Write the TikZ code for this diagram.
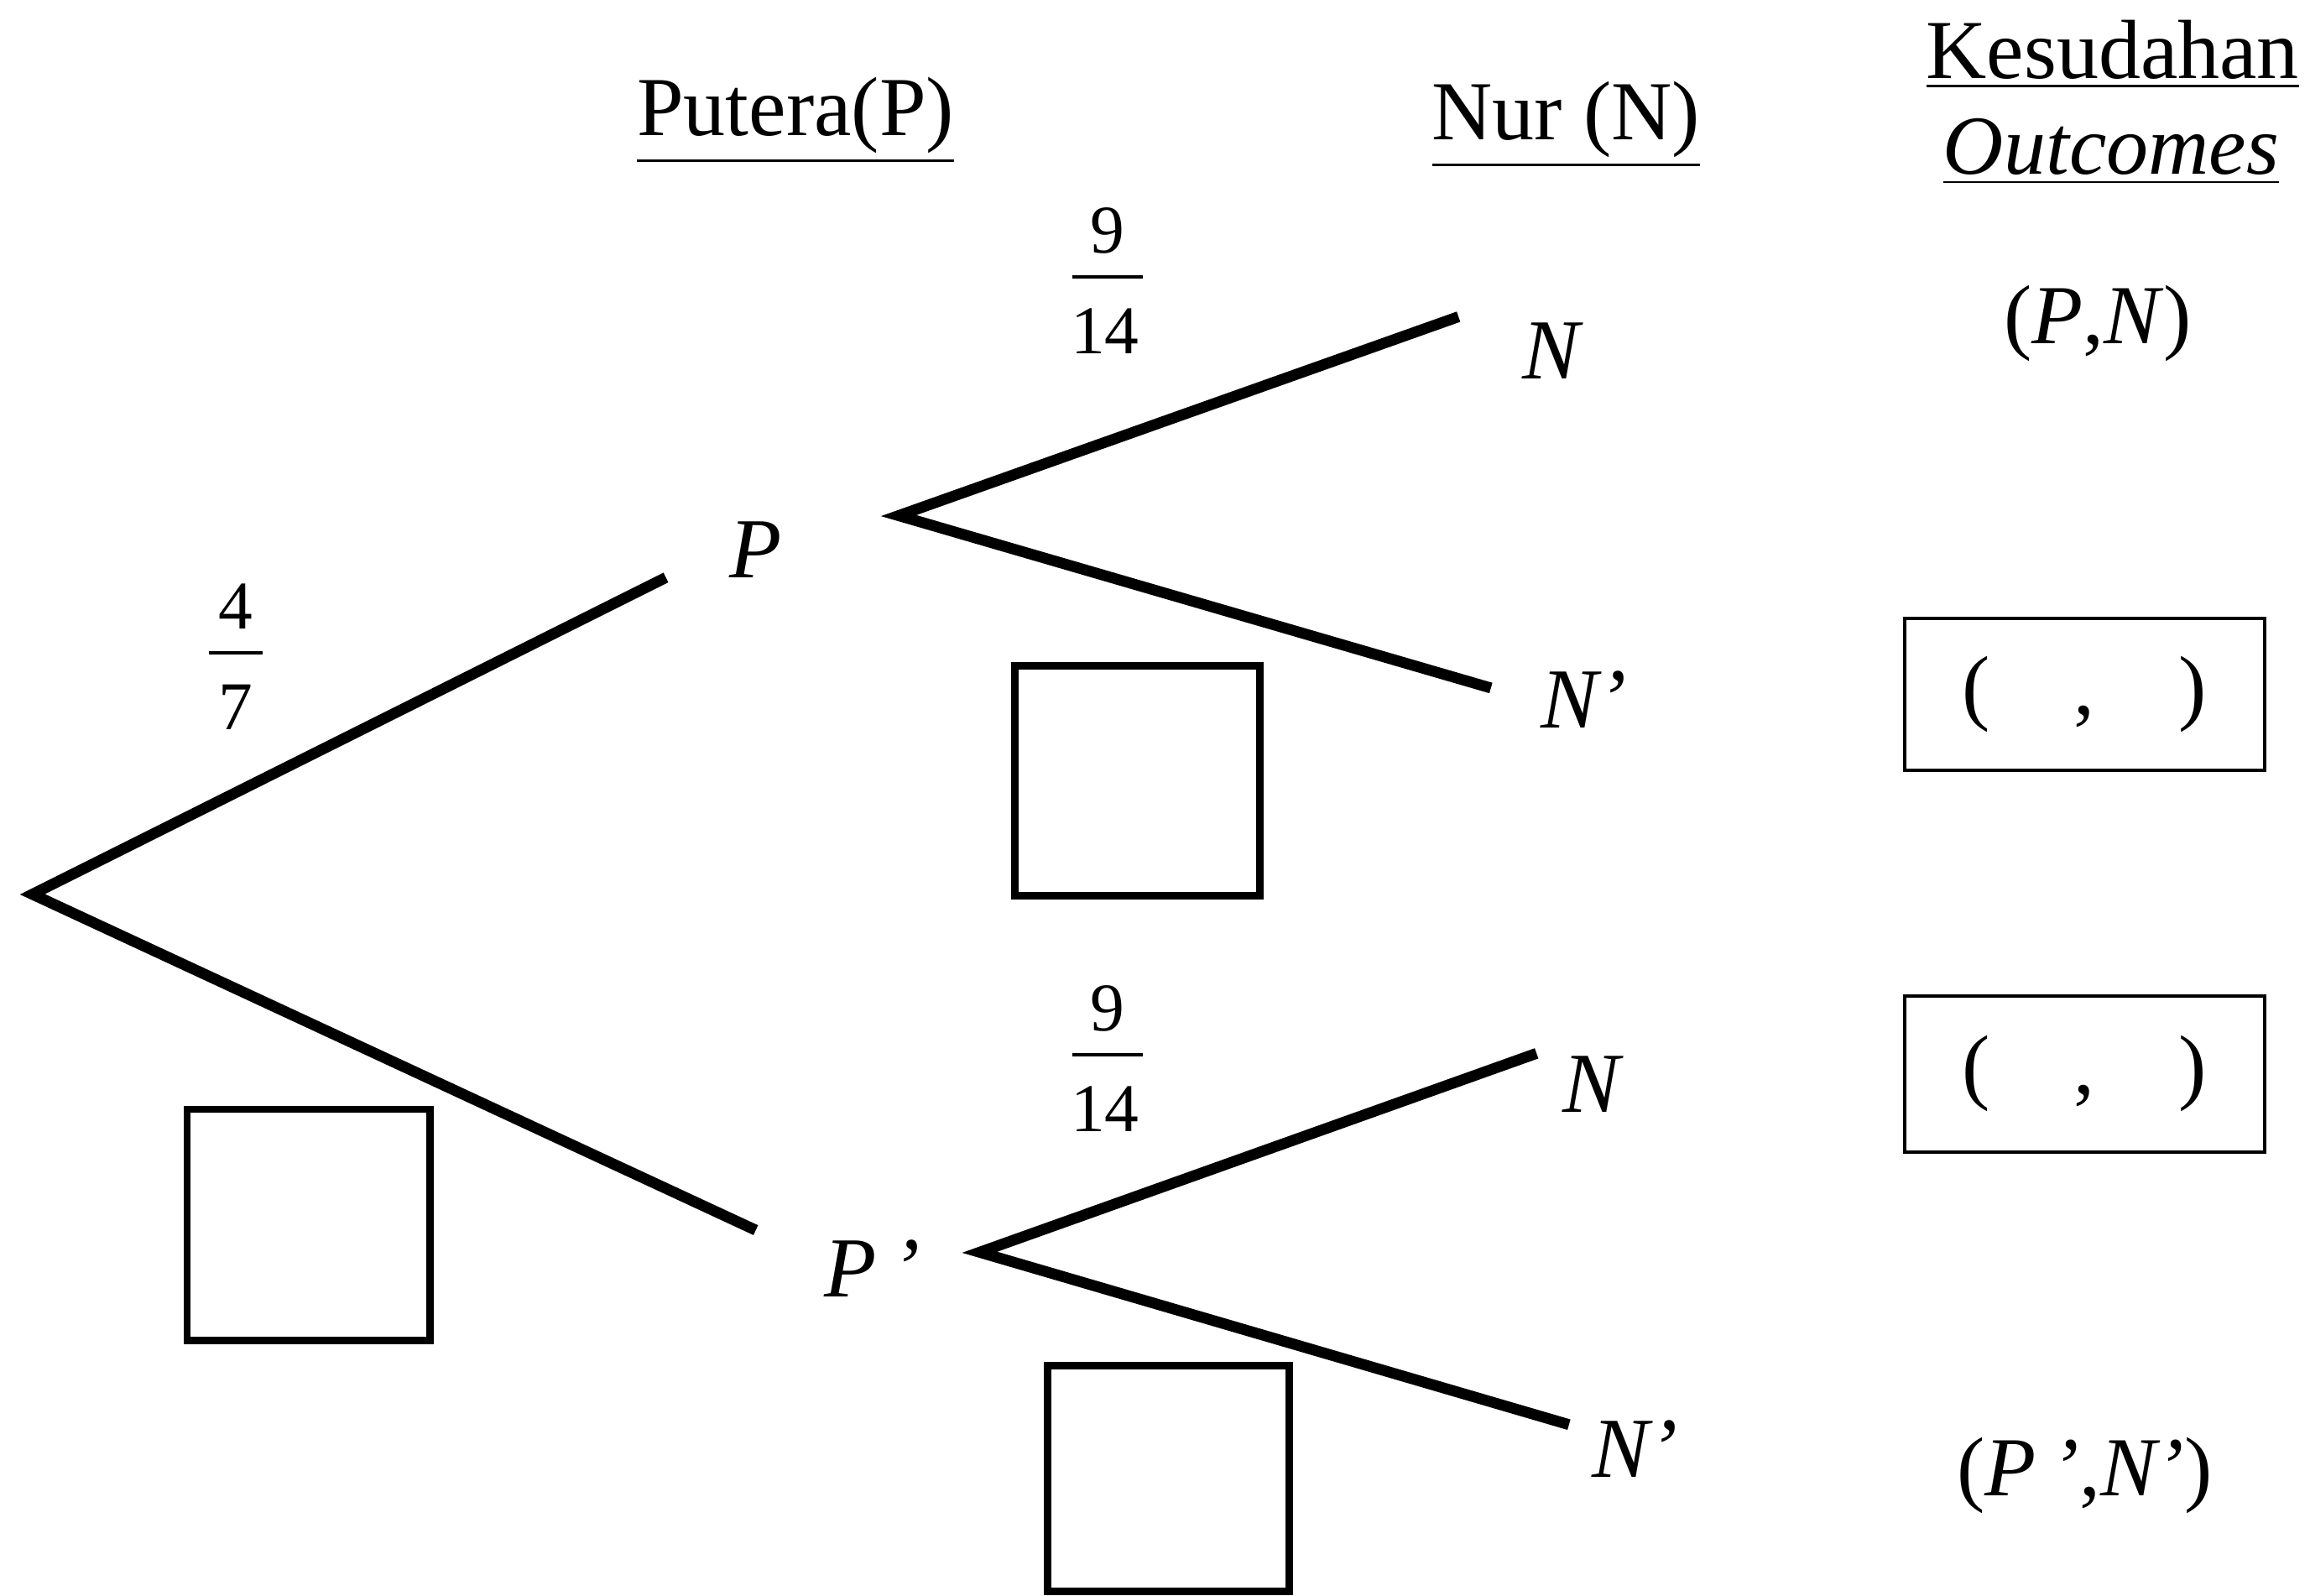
\documentclass[tikz,border=0pt]{standalone}
\usepackage{fontspec}
\setmainfont{Liberation Serif}
\begin{document}
\begin{tikzpicture}[x=0.01cm,y=-0.01cm,
  branch/.style={line width=2.1pt},
  blank/.style={draw,line width=1.4pt,inner sep=0pt},
  obox/.style={draw,line width=0.6pt,inner sep=0pt,font=\fontsize{16.2}{20}\selectfont},
  fracbar/.style={line width=0.6pt},
  lbl/.style={inner sep=0pt,anchor=base,font=\fontsize{16.5}{20}\selectfont\itshape},
  hdr/.style={inner sep=0pt,anchor=base,font=\fontsize{16.2}{20}\selectfont},
  num/.style={inner sep=0pt,anchor=base,font=\fontsize{13.2}{15}\selectfont},
  txt/.style={inner sep=0pt,anchor=base,font=\fontsize{16.2}{20}\selectfont}]
\useasboundingbox (0,0) rectangle (1568,1083);

% headers
\node[hdr] (hput) at (540,92) {\underline{Putera(P)}};
\node[hdr] (hnur) at (1063,95) {\underline{Nur (N)}};
\node[hdr] (hkes) at (1434,53) {\underline{Kesudahan}};
\node[hdr] (hout) at (1433,118) {\underline{\textit{Outcomes}}};

% branch points
\coordinate (root) at (22,607);
\coordinate (pEnd) at (452,392);
\coordinate (pJ) at (610,350);
\coordinate (nE1) at (990,215);
\coordinate (npE1) at (1012,467);
\coordinate (ppEnd) at (513,835);
\coordinate (ppJ) at (665,850);
\coordinate (nE2) at (1043,715);
\coordinate (npE2) at (1065,967);

\draw[branch] (pEnd) -- (root) -- (ppEnd);
\draw[branch] (nE1) -- (pJ) -- (npE1);
\draw[branch] (nE2) -- (ppJ) -- (npE2);

% labels
\node[lbl] (lP) at (513,392) {P};
\node[lbl] (lPp) at (592,880) {P\hspace{0.18em}’};
\node[lbl] (lN1) at (1053,257) {N};
\node[lbl] (lNp1) at (1075,494) {N’};
\node[lbl] (lN2) at (1080,755) {N};
\node[lbl] (lNp2) at (1110,1003) {N’};

% fractions
\node[num] (f1n) at (752,172) {9};
\node[num] (f1d) at (750,240) {14};
\coordinate (f1a) at (728,188); \coordinate (f1b) at (776,188);
\draw[fracbar] (f1a) -- (f1b);

\node[num] (f2n) at (160,427) {4};
\node[num] (f2d) at (160,495) {7};
\coordinate (f2a) at (142,443); \coordinate (f2b) at (178,443);
\draw[fracbar] (f2a) -- (f2b);

\node[num] (f3n) at (752,700) {9};
\node[num] (f3d) at (750,768) {14};
\coordinate (f3a) at (728,716); \coordinate (f3b) at (776,716);
\draw[fracbar] (f3a) -- (f3b);

% blank boxes
\node[blank,minimum width=1.66cm,minimum height=1.56cm] (b1) at (772,530) {};
\node[blank,minimum width=1.65cm,minimum height=1.57cm] (b2) at (209.5,831.5) {};
\node[blank,minimum width=1.64cm,minimum height=1.53cm] (b3) at (793,1003.5) {};

% outcomes
\node[txt] (o1) at (1424,233) {(\textit{P},\textit{N})};
\node[obox,minimum width=2.44cm,minimum height=1.03cm] (o2) at (1415,471.5) {(\hspace{1em},\hspace{1em})};
\node[obox,minimum width=2.44cm,minimum height=1.06cm] (o3) at (1415,729) {(\hspace{1em},\hspace{1em})};
\node[txt] (o4) at (1415,1015) {(\textit{P\hspace{0.18em}’},\textit{N’})};
\end{tikzpicture}
\end{document}
